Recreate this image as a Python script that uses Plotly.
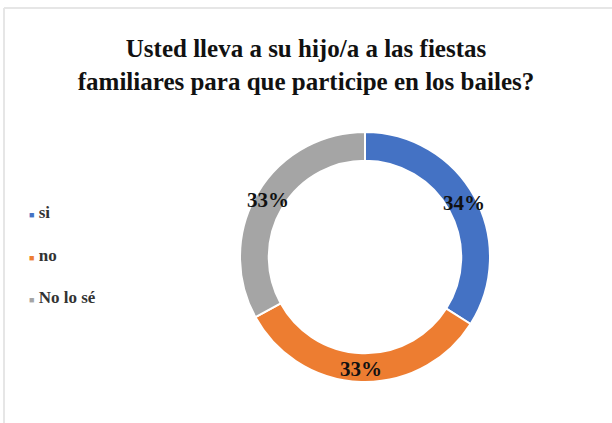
import numpy as np
import plotly.graph_objects as go

# datos
labels = ["si", "no", "No lo sé"]
values = [34, 33, 33]
colors = ["#4472C4", "#ED7D31", "#A5A5A5"]
title = "Usted lleva a su hijo/a a las fiestas<br>familiares para que participe en los bailes?"

W, H = 612, 423
FONT = "Liberation Serif, Times New Roman, serif"

# posicion del anillo (pixeles)
cx, cy, R = 365, 257, 125
dom_x = [(cx - R) / W, (cx + R) / W]
dom_y = [(H - cy - R) / H, (H - cy + R) / H]

fig = go.Figure()
fig.add_trace(go.Pie(
    labels=labels,
    values=values,
    hole=0.77,
    sort=False,
    direction="clockwise",
    rotation=0,
    marker=dict(colors=colors, line=dict(color="white", width=2)),
    textinfo="none",
    hoverinfo="label+percent",
    showlegend=False,
    domain=dict(x=dom_x, y=dom_y),
))

# etiquetas de porcentaje sobre el anillo
vals = np.array(values, dtype=float)
pct = vals / vals.sum()
mid = (np.cumsum(pct) - pct / 2) * 2 * np.pi
r_lab = 0.9 * R
for p, a in zip(pct, mid):
    fig.add_annotation(
        x=(cx + r_lab * np.sin(a)) / W,
        y=(H - cy + r_lab * np.cos(a)) / H,
        xref="paper", yref="paper",
        text=f"<b>{round(p * 100):.0f}%</b>",
        showarrow=False,
        font=dict(family=FONT, size=21, color="#111"),
        xanchor="center", yanchor="middle",
    )

# leyenda a mano (separacion amplia como en el original)
leg_x, leg_y0, leg_gap = 27, 213, 42
for i, (lab, col) in enumerate(zip(labels, colors)):
    yy = (H - (leg_y0 + i * leg_gap)) / H
    fig.add_annotation(
        x=leg_x / W, y=yy, xref="paper", yref="paper",
        text=f"<span style='color:{col};font-size:9px'>■</span> <b>{lab}</b>",
        showarrow=False, xanchor="left", yanchor="middle",
        font=dict(family=FONT, size=17, color="#333"),
    )

# borde tenue
fig.add_shape(type="line", xref="paper", yref="paper",
              x0=4 / W, x1=4 / W, y0=0, y1=(H - 8) / H,
              line=dict(color="#e6e6e6", width=2))
fig.add_shape(type="line", xref="paper", yref="paper",
              x0=4 / W, x1=1, y0=(H - 8) / H, y1=(H - 8) / H,
              line=dict(color="#e6e6e6", width=2))

fig.update_layout(
    width=W, height=H,
    margin=dict(l=0, r=0, t=0, b=0),
    paper_bgcolor="white",
    plot_bgcolor="white",
    font=dict(family=FONT),
    title=dict(
        text=f"<b>{title}</b>",
        x=0.5, xanchor="center",
        y=1 - 57 / H, yanchor="top",
        font=dict(family=FONT, size=25, color="#111"),
    ),
)

# sin margen del body para que la figura empiece en (0, 0)
fig.write_html(
    "out.html",
    config={"displayModeBar": False},
    post_script="document.body.style.margin='0';",
)
